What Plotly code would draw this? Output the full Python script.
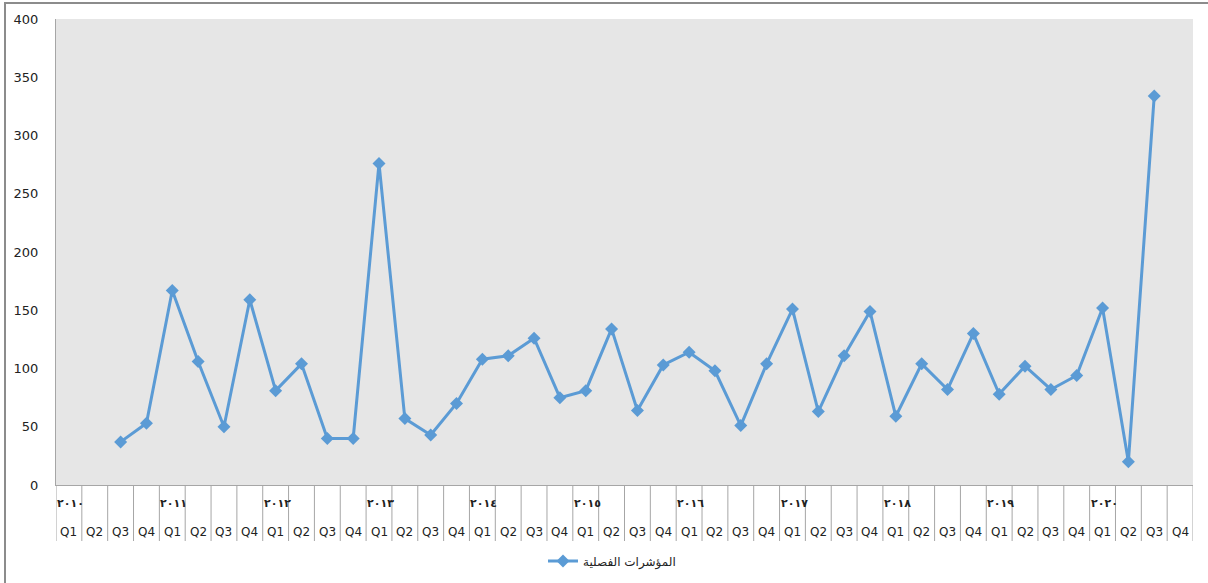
import plotly.graph_objects as go

years = ["٢٠١٠", "٢٠١١", "٢٠١٢", "٢٠١٣", "٢٠١٤", "٢٠١٥", "٢٠١٦", "٢٠١٧", "٢٠١٨", "٢٠١٩", "٢٠٢٠"]
quarters = ["Q1", "Q2", "Q3", "Q4"]
values = [None, None, 37, 53,
          167, 106, 50, 159,
          81, 104, 40, 40,
          276, 57, 43, 70,
          108, 111, 126, 75,
          81, 134, 64, 103,
          114, 98, 51, 104,
          151, 63, 111, 149,
          59, 104, 82, 130,
          78, 102, 82, 94,
          152, 20, 334, None]
series_name = "المؤشرات الفصلية"

n = len(years) * len(quarters)
xs = list(range(n))
q_labels = [quarters[i % 4] for i in xs]

L, R, T, B = 56, 15, 19, 98
W, H = 1208, 583
ph = H - T - B
pw = W - L - R

fig = go.Figure()
fig.add_trace(go.Scatter(
    x=xs, y=values, mode="lines+markers", name=series_name,
    line=dict(color="#5b9bd5", width=3),
    marker=dict(symbol="diamond", size=10, color="#5b9bd5"),
    connectgaps=False,
))

annotations = []
for i in xs:
    annotations.append(dict(x=i, y=0, xref="x", yref="paper", text=q_labels[i],
                            showarrow=False, yshift=-47, font=dict(size=12, color="#222"),
                            xanchor="center", yanchor="middle"))
for k, yr in enumerate(years):
    annotations.append(dict(x=k * 4 - 0.5, y=0, xref="x", yref="paper", text="<b>" + yr + "</b>",
                            showarrow=False, yshift=-18, xshift=-1,
                            font=dict(size=11, color="#222", family="DejaVu Sans"),
                            xanchor="left", yanchor="middle"))

shapes = []
for i in range(n + 1):
    shapes.append(dict(type="line", xref="x", yref="paper", x0=i - 0.5, x1=i - 0.5,
                       y0=0, y1=-56 / ph, line=dict(color="#a6a6a6", width=1)))
# outer chart border
shapes.append(dict(type="rect", xref="paper", yref="paper",
                   x0=(5 - L) / pw, x1=1.2, y0=-0.5, y1=(ph + T - 3) / ph,
                   line=dict(color="#8c8c8c", width=2), layer="below"))

fig.update_layout(
    width=W, height=H,
    margin=dict(l=L, r=R, t=T, b=B, autoexpand=False),
    paper_bgcolor="white",
    plot_bgcolor="#e6e6e6",
    font=dict(family="DejaVu Sans", size=12, color="#222"),
    showlegend=True,
    legend=dict(orientation="h", x=(612 - L) / pw, xanchor="center",
                yref="container", y=(H - 561) / H, yanchor="middle",
                font=dict(size=12, color="#222"), bgcolor="rgba(0,0,0,0)"),
    annotations=annotations,
    shapes=shapes,
)
fig.update_xaxes(range=[-0.5, n - 0.5], showticklabels=False, showgrid=False,
                 zeroline=False, showline=True, linecolor="#a6a6a6", linewidth=1,
                 mirror=False, ticks="")
fig.update_yaxes(range=[0, 400], dtick=50, showgrid=False, zeroline=False,
                 showline=True, linecolor="#a6a6a6", linewidth=1, ticks="",
                 ticklabelstandoff=14, tickfont=dict(size=13, color="#222"))

fig.write_html("out.html")
